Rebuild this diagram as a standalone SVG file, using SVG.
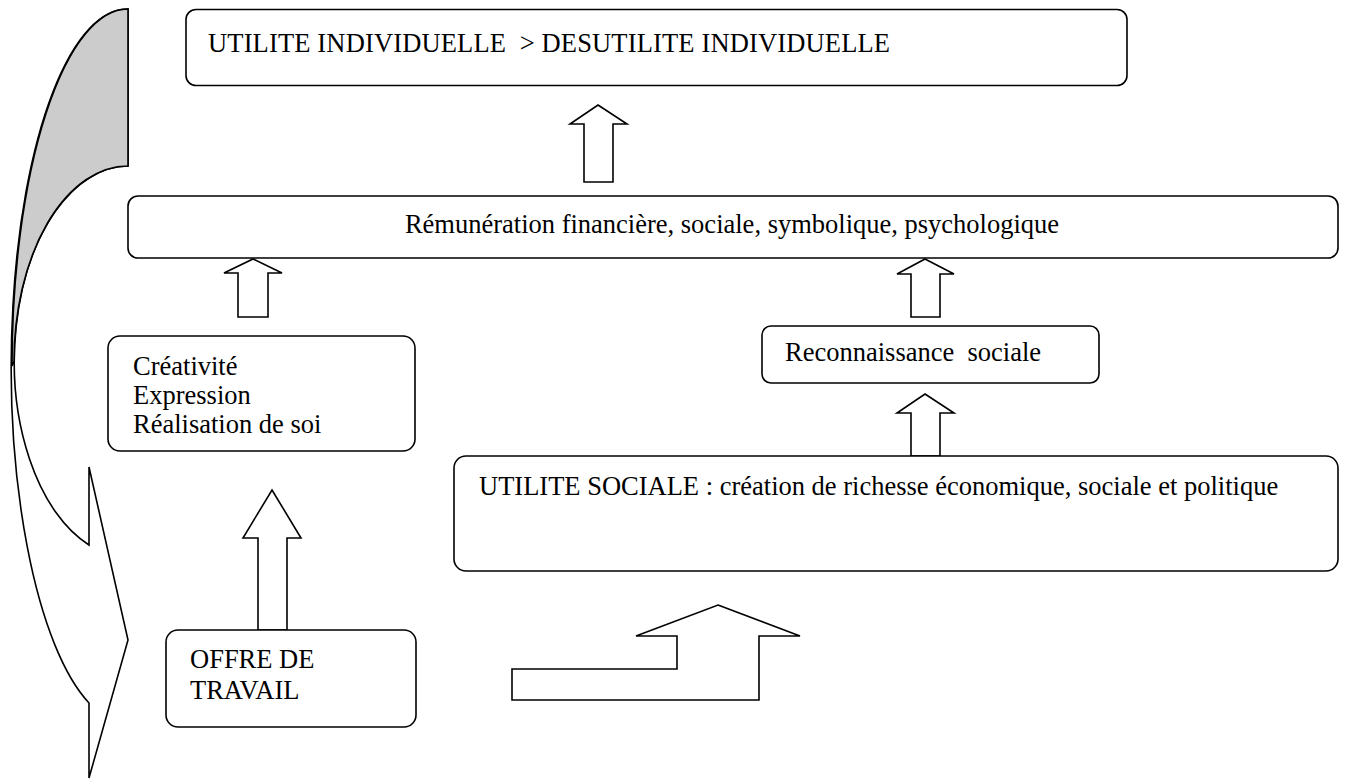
<svg xmlns="http://www.w3.org/2000/svg" width="1345" height="780" viewBox="0 0 1345 780">
<style>
.box{fill:#ffffff;stroke:#000000;stroke-width:1.6}
.arr{fill:#ffffff;stroke:#000000;stroke-width:1.6;stroke-linejoin:miter}
.t{font-family:"Liberation Serif","Times New Roman",serif;font-size:26.5px;fill:#000000}
</style>
<rect width="1345" height="780" fill="#ffffff"/>
<g id="curved-arrow">
<path class="arr" d="M128,9 A116,357 0 0 0 89,703 L89,778 L128,640 L89,467 L89,545 A114,195.5 0 0 1 128,166 Z"/>
<path d="M128,9 A116,357 0 0 0 12,366 L14,361.5 A114,195.5 0 0 1 128,166 Z" fill="#cccccc" stroke="#000000" stroke-width="1.6" stroke-linejoin="miter"/>
</g>
<g id="connectors">
<path class="arr" d="M598,105 L627,124 L613,124 L613,182 L584,182 L584,124 L570,124 Z"/>
<path class="arr" d="M253,259 L282,273 L268,273 L268,317 L238,317 L238,273 L224,273 Z"/>
<path class="arr" d="M925,259 L954,274 L940,274 L940,317 L911,317 L911,274 L897,274 Z"/>
<path class="arr" d="M925,394 L954,413 L940,413 L940,456 L911,456 L911,413 L897,413 Z"/>
<path class="arr" d="M272,490 L301,538 L287,538 L287,630 L258,630 L258,538 L243,538 Z"/>
<path class="arr" d="M718,605 L800,636 L759,636 L759,700 L512,700 L512,669 L677,669 L677,636 L636,636 Z"/>
</g>
<g id="node-utilite-individuelle">
<rect class="box" x="186" y="9.5" width="941" height="76" rx="10"/>
<text class="t" x="208" y="52" textLength="682" lengthAdjust="spacing" xml:space="preserve">UTILITE INDIVIDUELLE  &gt; DESUTILITE INDIVIDUELLE</text>
</g>
<g id="node-remuneration">
<rect class="box" x="128" y="196" width="1210" height="62" rx="10"/>
<text class="t" x="732" y="233" text-anchor="middle">Rémunération financière, sociale, symbolique, psychologique</text>
</g>
<g id="node-creativite">
<rect class="box" x="108" y="336" width="307" height="115" rx="12"/>
<text class="t" x="133" y="375">Créativité</text>
<text class="t" x="133" y="404">Expression</text>
<text class="t" x="133" y="433">Réalisation de soi</text>
</g>
<g id="node-reconnaissance">
<rect class="box" x="762" y="326" width="337" height="57" rx="9"/>
<text class="t" x="785" y="361" xml:space="preserve">Reconnaissance  sociale</text>
</g>
<g id="node-utilite-sociale">
<rect class="box" x="454" y="456" width="884" height="115" rx="12"/>
<text class="t" x="479" y="495">UTILITE SOCIALE : création de richesse économique, sociale et politique</text>
</g>
<g id="node-offre">
<rect class="box" x="166" y="630" width="250" height="97" rx="12"/>
<text class="t" x="190" y="668">OFFRE DE</text>
<text class="t" x="190" y="699">TRAVAIL</text>
</g>
</svg>
